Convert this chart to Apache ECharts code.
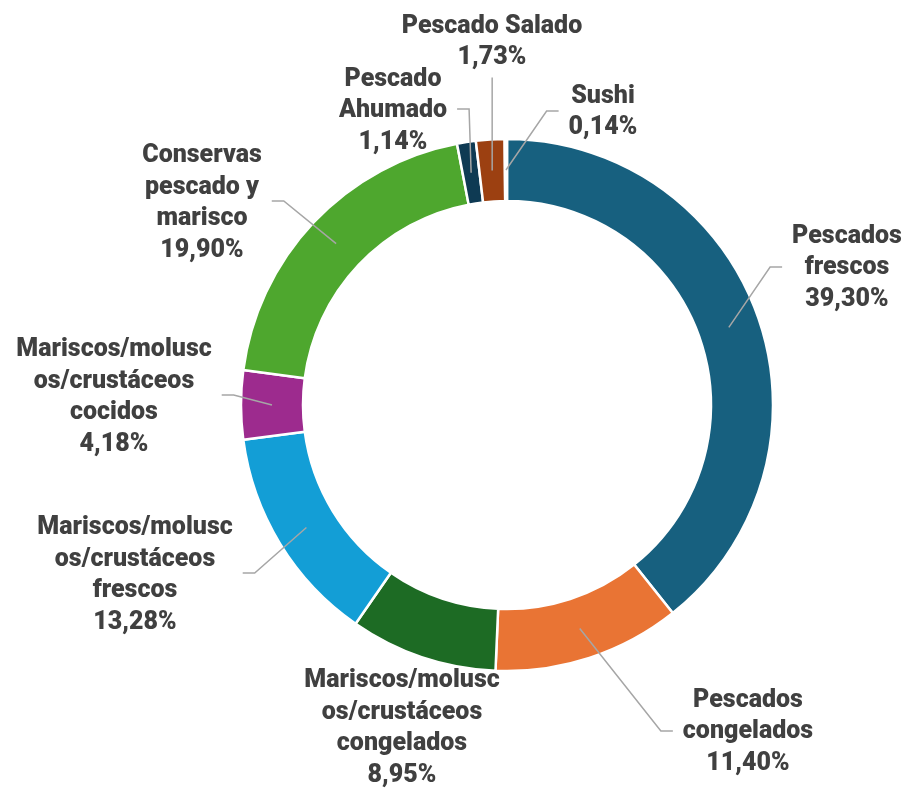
<!DOCTYPE html>
<html>
<head>
<meta charset="utf-8">
<script src="https://cdn.jsdelivr.net/npm/echarts@6/dist/echarts.min.js"></script>
<style>
  html, body { margin: 0; padding: 0; background: #fff; }
  #chart { width: 910px; height: 789px; }
</style>
</head>
<body>
<div id="chart"></div>
<script>
// Categories (with the line breaks used in the labels)
const categories = [
  'Pescados\nfrescos',
  'Pescados\ncongelados',
  'Mariscos/molusc\nos/crustáceos\ncongelados',
  'Mariscos/molusc\nos/crustáceos\nfrescos',
  'Mariscos/molusc\nos/crustáceos\ncocidos',
  'Conservas\npescado y\nmarisco',
  'Pescado\nAhumado',
  'Pescado Salado',
  'Sushi'
]
const shares = [39.30, 11.40, 8.95, 13.28, 4.18, 19.90, 1.14, 1.73, 0.14]
const colors = ['#17607f', '#e97434', '#1d6b24', '#139ed6', '#9d2b8e', '#4ea72e', '#0e3a53', '#9c4011', '#7f7f7f']

// Label placement (centre of each label block) and leader line side
const labelPos = [[847, 268], [748, 732], [402, 728], [135, 575], [114, 397], [202, 203], [393, 111], [492, 42], [603, 112]]
const lineSide = ['left', 'left', 'none', 'right', 'right', 'right', 'right', 'below', 'left']

const CX = 507
const CY = 405
const R_IN = 204
const R_OUT = 266
const R_MID = (R_IN + R_OUT) / 2

const total = shares.reduce((a, b) => a + b, 0)
const midAngle = []
let acc = 0
shares.forEach((v) => {
  midAngle.push(((acc + v / 2) / total) * Math.PI * 2)
  acc += v
})

const chart = echarts.init(document.getElementById('chart'))

const pieBase = {
  type: 'pie',
  center: [CX, CY],
  radius: [R_IN, R_OUT],
  startAngle: 90,
  clockwise: true,
  avoidLabelOverlap: false
}

const option = {
  animation: false,
  series: [
    // visible ring
    {
      ...pieBase,
      z: 2,
      itemStyle: { borderColor: '#fff', borderWidth: 2.5 },
      label: { show: false },
      labelLine: { show: false },
      data: categories.map((name, i) => ({
        name: name,
        value: shares[i],
        itemStyle: { color: colors[i] }
      }))
    },
    // transparent copy on top, carries labels and leader lines
    {
      ...pieBase,
      z: 3,
      silent: true,
      itemStyle: { color: 'rgba(0,0,0,0)', borderWidth: 0 },
      label: {
        show: true,
        position: 'outside',
        color: '#404040',
        fontFamily: 'Roboto',
        fontWeight: 900,
        fontSize: 25,
        lineHeight: 31.5,
        align: 'center',
        formatter: (p) => categories[p.dataIndex] + '\n' + shares[p.dataIndex].toFixed(2).replace('.', ',') + '%'
      },
      labelLine: {
        show: true,
        lineStyle: { color: '#a6a6a6', width: 1.5 }
      },
      labelLayout: (p) => {
        const i = p.dataIndex
        const [lx, ly] = labelPos[i]
        const w = p.labelRect.width
        const h = p.labelRect.height
        const a = midAngle[i]
        const start = [CX + R_MID * Math.sin(a), CY - R_MID * Math.cos(a)]
        let pts
        if (lineSide[i] === 'left') {
          const ex = lx - w / 2 - 10
          pts = [start, [ex - 12, ly - 1], [ex, ly - 1]]
        } else if (lineSide[i] === 'right') {
          const ex = lx + w / 2 + 10
          pts = [start, [ex + 12, ly - 2], [ex, ly - 2]]
        } else if (lineSide[i] === 'below') {
          const ey = ly + h / 2 + 4
          pts = [start, [start[0], ey], [start[0], ey]]
        } else {
          pts = [start, start, start]
        }
        return {
          x: lx,
          y: ly,
          align: 'center',
          verticalAlign: 'middle',
          hideOverlap: false,
          labelLinePoints: pts
        }
      },
      data: categories.map((name, i) => ({
        name: name,
        value: shares[i],
        labelLine: { show: lineSide[i] !== 'none' }
      }))
    }
  ]
}

chart.setOption(option)
</script>
</body>
</html>
